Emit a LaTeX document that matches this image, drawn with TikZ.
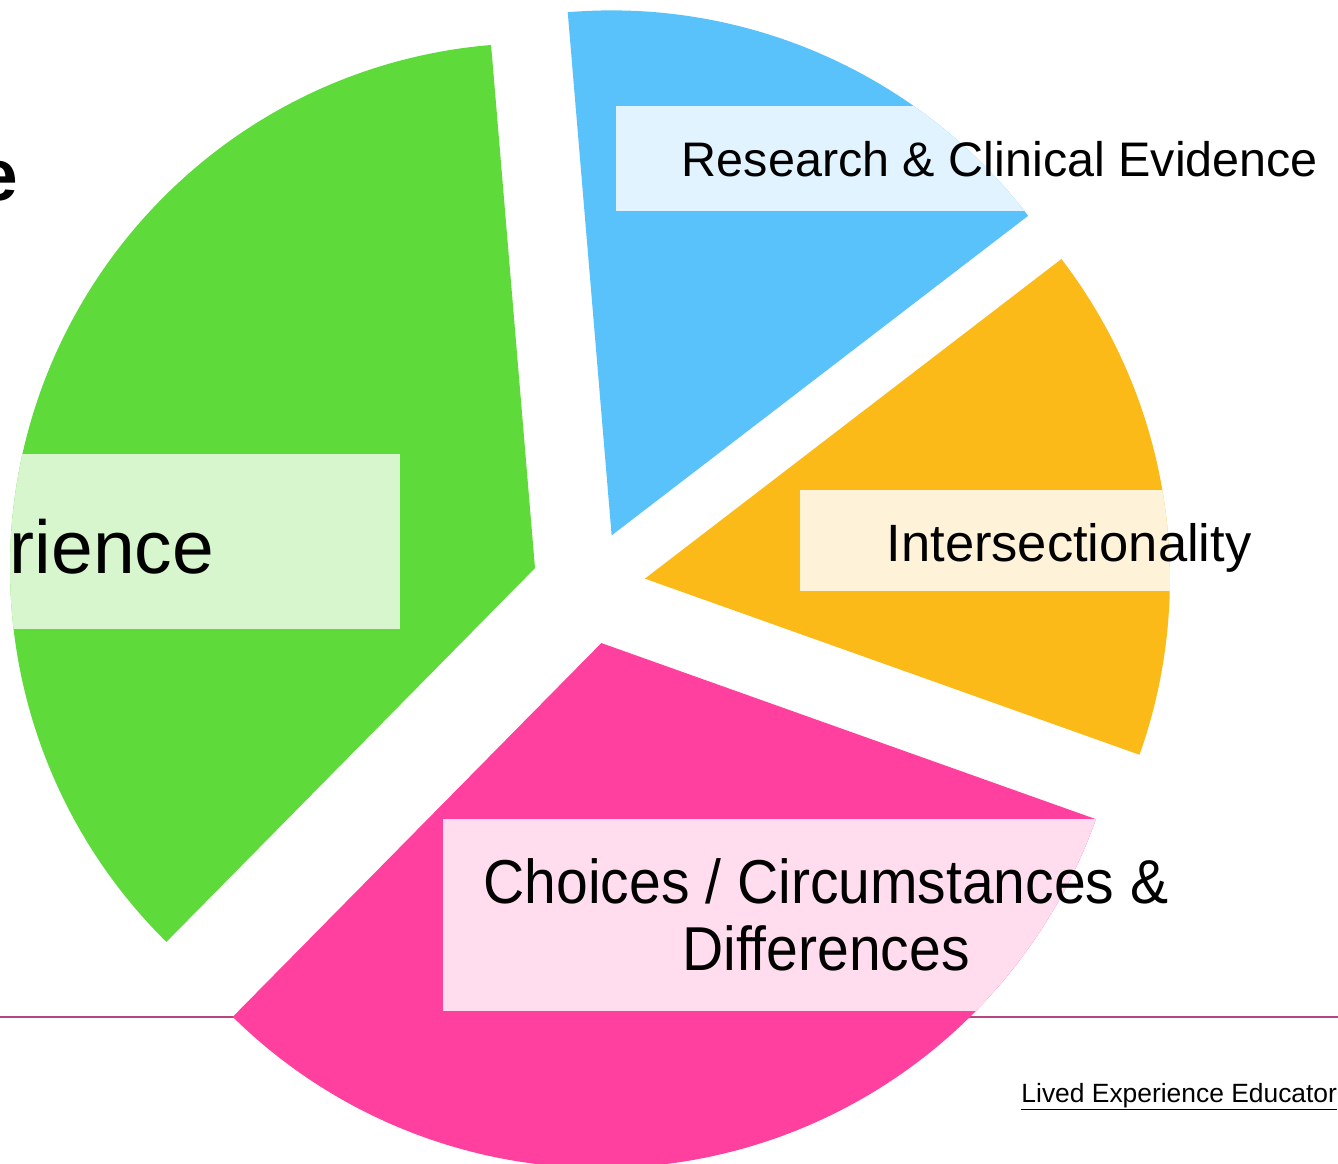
\documentclass[tikz,border=0pt]{standalone}
\usepackage{fontspec}
\setmainfont{Liberation Sans}
\newfontfamily\narrowfont[FakeStretch=0.92]{Liberation Sans}
\definecolor{cgreen}{HTML}{5FDA3B}
\definecolor{lgreen}{HTML}{D8F6CD}
\definecolor{cblue}{HTML}{5AC2FB}
\definecolor{lblue}{HTML}{E1F3FE}
\definecolor{corange}{HTML}{FBBA17}
\definecolor{lorange}{HTML}{FEF2D9}
\definecolor{cpink}{HTML}{FF409E}
\definecolor{lpink}{HTML}{FFDCEE}
\definecolor{cline}{HTML}{B8457F}
\newcommand\pieslice[6]{%
  \fill[#4] (#1) -- ++(#2:525) arc[start angle=#2,end angle=#3,radius=525] -- cycle;
  \begin{scope}
    \clip (#1) -- ++(#2:525) arc[start angle=#2,end angle=#3,radius=525] -- cycle;
    \fill[#5] #6;
  \end{scope}}
\tikzset{
  lbl/.style={inner sep=0pt, outer sep=0pt, text=black},
  rule/.style={draw=cline, line width=2pt}
}
\begin{document}
\begin{tikzpicture}[x=1pt,y=1pt]
\useasboundingbox (0,-1164) rectangle (1338,0);
\clip (0,-1164) rectangle (1338,0);
\fill[white] (0,-1164) rectangle (1338,0);
% base rule
\coordinate (l0) at (0,-1017);
\coordinate (l1) at (1338,-1017);
\draw[rule] (l0) -- (l1);
% pie centre and apexes
\coordinate (C) at (588.6,-587.5);
\coordinate (gA) at ([shift={(160.1:57)}]C);
\coordinate (bA) at ([shift={(66.15:57)}]C);
\coordinate (oA) at ([shift={(8.95:57)}]C);
\coordinate (pA) at ([shift={(282.9:57)}]C);
\pieslice{gA}{94.8}{225.4}{cgreen}{lgreen}{(-10,-454) rectangle (400,-629)}
\pieslice{bA}{37.5}{94.8}{cblue}{lblue}{(616,-106) rectangle (1100,-211)}
\pieslice{oA}{-19.6}{37.5}{corange}{lorange}{(800,-490) rectangle (1250,-591)}
\pieslice{pA}{225.4}{340.4}{cpink}{lpink}{(443,-819) rectangle (1200,-1011)}
% labels
\node[lbl, anchor=base, font=\fontsize{48.5}{56}\selectfont] (research) at (1000,-176) {Research \& Clinical Evidence};
\node[lbl, anchor=base, font=\fontsize{52.5}{60}\selectfont] (inter) at (1069,-561) {Intersectionality};
\node[lbl, anchor=base, font=\narrowfont\fontsize{62}{67}\selectfont] (choices) at (826,-903) {Choices / Circumstances \&};
\node[lbl, anchor=base, font=\narrowfont\fontsize{62}{67}\selectfont] (differences) at (826,-970) {Differences};
\node[lbl, anchor=base east, font=\fontsize{75}{84}\selectfont] (rience) at (214,-573) {rience};
\node[lbl, anchor=base east, font=\bfseries\fontsize{73}{80}\selectfont] (titlee) at (18,-200) {e};
\node[lbl, anchor=base east, font=\fontsize{26.4}{30}\selectfont] (educator) at (1337,-1102) {\underline{Lived Experience Educator}};
\end{tikzpicture}
\end{document}
